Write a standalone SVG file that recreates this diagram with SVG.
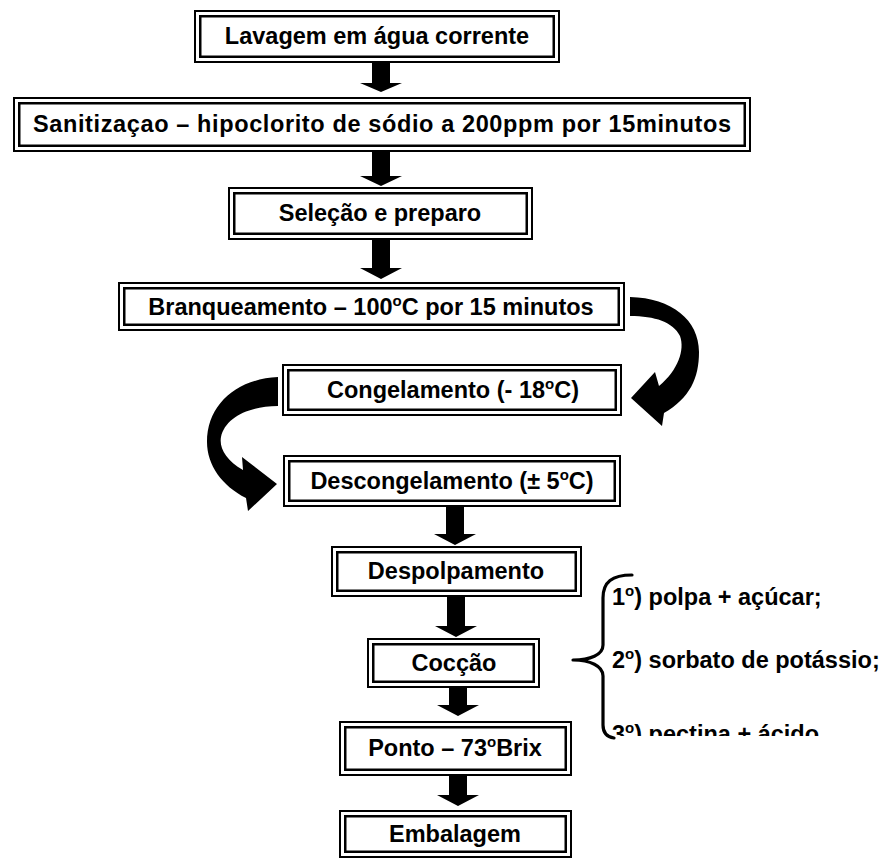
<svg xmlns="http://www.w3.org/2000/svg" width="885" height="860" viewBox="0 0 885 860">
  <style>
    .outer { fill: #fff; stroke: #000; stroke-width: 2; }
    .inner { fill: none; stroke: #000; stroke-width: 2.5; }
    .lbl { font-family: "Liberation Sans", Arial, sans-serif; font-weight: bold; font-size: 23.5px; fill: #000; text-anchor: middle; }
    .note { font-family: "Liberation Sans", Arial, sans-serif; font-weight: bold; font-size: 23.5px; fill: #000; }
    .arrow { fill: #000; }
    .brace { fill: none; stroke: #000; stroke-width: 3.2; stroke-linecap: round; stroke-linejoin: round; }
  </style>
  <defs>
    <clipPath id="noteClip">
      <rect x="600" y="560" width="285" height="176"/>
    </clipPath>
  </defs>
  <rect width="885" height="860" fill="#fff"/>

  <!-- connectors -->
  <g id="connectors">
    <!-- straight block arrows -->
    <path class="arrow" d="M372 63 H390 V83 H402 L381 92 L360 83 H372 Z"/>
    <path class="arrow" d="M372 152 H390 V176 H402 L381 186 L360 176 H372 Z"/>
    <path class="arrow" d="M372 240 H390 V268 H402 L381 279 L360 268 H372 Z"/>
    <path class="arrow" d="M446 507 H464 V534 H476 L455 545 L434 534 H446 Z"/>
    <path class="arrow" d="M447 597 H465 V626 H477 L456 637 L435 626 H447 Z"/>
    <path class="arrow" d="M449 688 H467 V705 H479 L458 716 L437 705 H449 Z"/>
    <path class="arrow" d="M449 776 H467 V795 H479 L458 806 L437 795 H449 Z"/>
    <!-- curved arrow: Branqueamento to Congelamento -->
    <path class="arrow" d="M630 297 C672 298 699 320 699 352 C699 378 690 398 664 413 L662 426 L631 398 L655 372 L659 386 C678 370 685 350 680 336 C673 322 655 316 630 316 Z"/>
    <!-- curved arrow: Congelamento to Descongelamento -->
    <path class="arrow" d="M278 377 C236 379 207 405 207 442 C207 465 222 486 246 498 L248 511 L277 484 L242 457 L243 470 C226 460 219 448 221 437 C225 418 248 406 278 406 Z"/>
  </g>

  <g id="n1">
    <rect class="outer" x="195" y="11" width="364" height="51"/>
    <rect class="inner" x="200.25" y="16.25" width="353.5" height="40.5"/>
    <text class="lbl" x="377" y="44">Lavagem em água corrente</text>
  </g>
  <g id="n2">
    <rect class="outer" x="14" y="98" width="736" height="53"/>
    <rect class="inner" x="19.25" y="103.25" width="725.5" height="42.5"/>
    <text class="lbl" x="382" y="132" textLength="698" lengthAdjust="spacing">Sanitizaçao – hipoclorito de sódio a 200ppm por 15minutos</text>
  </g>
  <g id="n3">
    <rect class="outer" x="229" y="188" width="303" height="51"/>
    <rect class="inner" x="234.25" y="193.25" width="292.5" height="40.5"/>
    <text class="lbl" x="380" y="221">Seleção e preparo</text>
  </g>
  <g id="n4">
    <rect class="outer" x="119" y="283" width="505" height="47"/>
    <rect class="inner" x="124.25" y="288.25" width="494.5" height="36.5"/>
    <text class="lbl" x="371" y="315">Branqueamento – 100<tspan font-size="15" dy="-9">o</tspan><tspan dy="9">C por 15 minutos</tspan></text>
  </g>
  <g id="n5">
    <rect class="outer" x="283" y="365" width="338" height="50"/>
    <rect class="inner" x="288.25" y="370.25" width="327.5" height="39.5"/>
    <text class="lbl" x="453" y="398">Congelamento (- 18<tspan font-size="15" dy="-9">o</tspan><tspan dy="9">C)</tspan></text>
  </g>
  <g id="n6">
    <rect class="outer" x="284" y="456" width="336" height="50"/>
    <rect class="inner" x="289.25" y="461.25" width="325.5" height="39.5"/>
    <text class="lbl" x="452" y="489">Descongelamento (± 5<tspan font-size="15" dy="-9">o</tspan><tspan dy="9">C)</tspan></text>
  </g>
  <g id="n7">
    <rect class="outer" x="332" y="547" width="249" height="49"/>
    <rect class="inner" x="337.25" y="552.25" width="238.5" height="38.5"/>
    <text class="lbl" x="456" y="579">Despolpamento</text>
  </g>
  <g id="n8">
    <rect class="outer" x="368" y="639" width="171" height="48"/>
    <rect class="inner" x="373.25" y="644.25" width="160.5" height="37.5"/>
    <text class="lbl" x="454" y="671">Cocção</text>
  </g>
  <g id="n9">
    <rect class="outer" x="340" y="722" width="231" height="53"/>
    <rect class="inner" x="345.25" y="727.25" width="220.5" height="42.5"/>
    <text class="lbl" x="455" y="756">Ponto – 73<tspan font-size="15" dy="-9">o</tspan><tspan dy="9">Brix</tspan></text>
  </g>
  <g id="n10">
    <rect class="outer" x="340" y="811" width="231" height="46"/>
    <rect class="inner" x="345.25" y="816.25" width="220.5" height="35.5"/>
    <text class="lbl" x="455" y="842">Embalagem</text>
  </g>

  <!-- cooking steps bracket -->
  <g id="notes">
    <path class="brace" d="M632 575 C612 575 603 582 603 598 L603 645 C603 655 590 660 573 660 C590 660 603 666 603 676 L603 725 C603 733 607 737 614 738"/>
    <g clip-path="url(#noteClip)">
      <text class="note" x="612" y="605">1<tspan font-size="15" dy="-9">o</tspan><tspan dy="9">) polpa + açúcar;</tspan></text>
      <text class="note" x="612" y="668">2<tspan font-size="15" dy="-9">o</tspan><tspan dy="9">) sorbato de potássio;</tspan></text>
      <text class="note" x="612" y="742">3<tspan font-size="15" dy="-9">o</tspan><tspan dy="9">) pectina + ácido.</tspan></text>
    </g>
  </g>
</svg>
